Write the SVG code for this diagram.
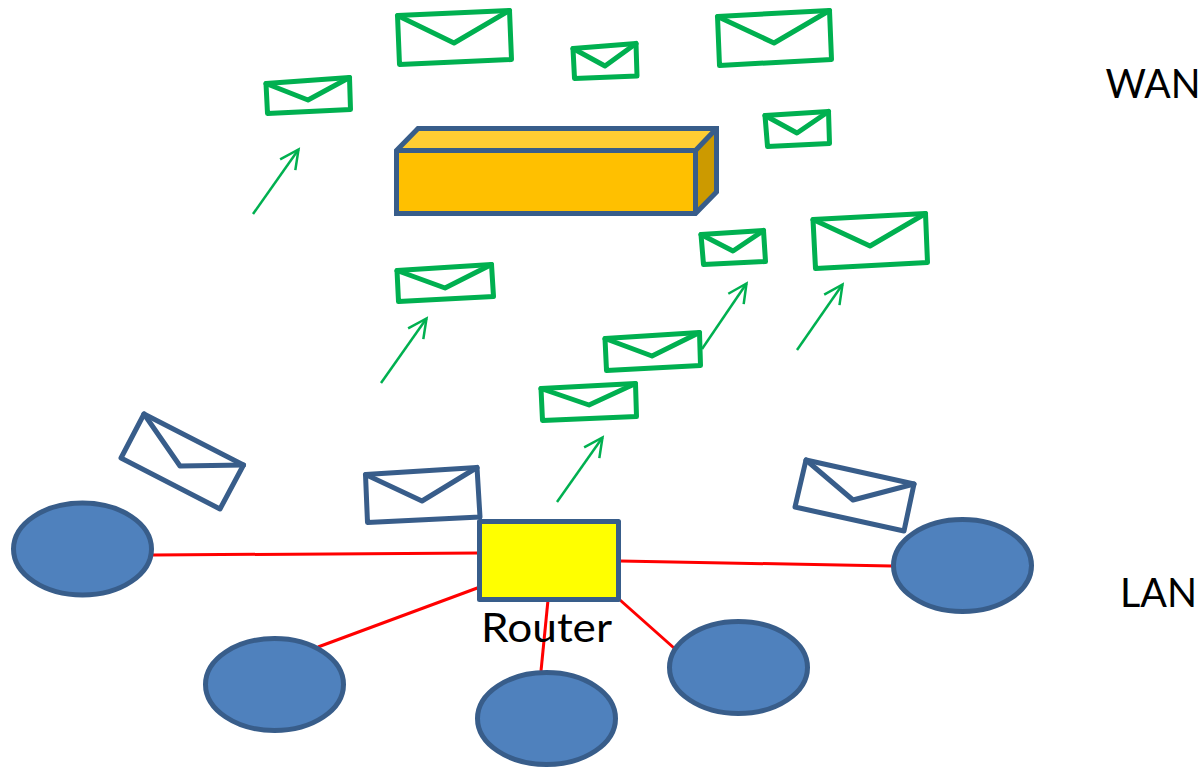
<svg xmlns="http://www.w3.org/2000/svg" width="1203" height="767" viewBox="0 0 1203 767">
<style>
.g{fill:#fff;stroke:#00B050;stroke-width:5;stroke-linejoin:round;stroke-linecap:round}
.gv{fill:none;stroke:#00B050;stroke-width:5;stroke-linejoin:round;stroke-linecap:round}
.b{fill:#fff;stroke:#385D8A;stroke-width:5;stroke-linejoin:round;stroke-linecap:round}
.bv{fill:none;stroke:#385D8A;stroke-width:5;stroke-linejoin:round;stroke-linecap:round}
.pc{fill:#4F81BD;stroke:#385D8A;stroke-width:5}
.red{stroke:#FF0000;stroke-width:3;fill:none}
.arr{stroke:#00B050;stroke-width:2.5;fill:none;marker-end:url(#open)}
.t{font-family:"Lato","Open Sans","Liberation Sans",sans-serif;font-size:40px;fill:#000}
.edge{stroke:#385D8A;stroke-width:5;stroke-linejoin:miter;fill:none}
</style>
<defs>
<marker id="open" markerUnits="userSpaceOnUse" markerWidth="24" markerHeight="24" refX="20" refY="10" orient="auto" overflow="visible">
<path d="M1.3 .7L20 10L1.3 19.3" fill="none" stroke="#00B050" stroke-width="2.5"/>
</marker>
</defs>
<g id="connectors">
<line class="red" x1="153" y1="555" x2="480" y2="553"/>
<line class="red" x1="318" y1="647" x2="480" y2="587"/>
<line class="red" x1="541" y1="671" x2="548" y2="600"/>
<line class="red" x1="620" y1="600" x2="674" y2="648"/>
<line class="red" x1="620" y1="561" x2="892" y2="566"/>
<line class="arr" x1="253" y1="214" x2="298.5" y2="149.5"/>
<line class="arr" x1="381" y1="383" x2="426.5" y2="318.5"/>
<line class="arr" x1="557" y1="502" x2="602.5" y2="437.5"/>
<line class="arr" x1="702" y1="349" x2="746.5" y2="283.5"/>
<line class="arr" x1="797" y1="350" x2="842.5" y2="284.5"/>
</g>
<g id="mail-wan-1"><polygon class="g" points="397.5,15.5 509.5,10.5 511.5,59.5 399.5,64.5"/><polyline class="gv" points="397.5,15.5 454,43 509.5,10.5"/></g>
<g id="mail-wan-2"><polygon class="g" points="573,48.5 636,43.5 637,76 574.5,78.5"/><polyline class="gv" points="573,48.5 605,66 636,43.5"/></g>
<g id="mail-wan-3"><polygon class="g" points="717.5,16.5 829.5,10.5 831.5,59.5 719.5,65.5"/><polyline class="gv" points="717.5,16.5 774,43 829.5,10.5"/></g>
<g id="mail-wan-4"><polygon class="g" points="266,83.5 349.5,77.5 350.5,109.5 267.5,113.5"/><polyline class="gv" points="266,83.5 308,100 349.5,77.5"/></g>
<g id="mail-wan-5"><polygon class="g" points="765,115.5 828.5,111.5 829.5,143.5 767.5,146.5"/><polyline class="gv" points="765,115.5 797,133 828.5,111.5"/></g>
<g id="mail-mid-1"><polygon class="g" points="701,234.5 763.5,230.5 765.5,261.5 703.5,264.5"/><polyline class="gv" points="701,234.5 733,251 763.5,230.5"/></g>
<g id="mail-mid-2"><polygon class="g" points="813,219.5 925.5,213.5 927.5,262.5 815.5,268.5"/><polyline class="gv" points="813,219.5 870,246 925.5,213.5"/></g>
<g id="mail-mid-3"><polygon class="g" points="397,270.5 491.5,264.5 493.5,296.5 398.5,301.5"/><polyline class="gv" points="397,270.5 445,288 491.5,264.5"/></g>
<g id="mail-mid-4"><polygon class="g" points="605,338.5 699.5,332.5 700.5,365.5 606.5,370.5"/><polyline class="gv" points="605,338.5 652,356 699.5,332.5"/></g>
<g id="mail-mid-5"><polygon class="g" points="541,388.5 635.5,383.5 636.5,416.5 542.5,420.5"/><polyline class="gv" points="541,388.5 589,405 635.5,383.5"/></g>
<g id="mail-lan-1"><polygon class="b" points="144,414 243.5,465 220,509 121,458"/><polyline class="bv" points="144,414 180,466 243.5,465"/></g>
<g id="mail-lan-2"><polygon class="b" points="365.5,474.5 477,467.5 480,517 367.5,522.5"/><polyline class="bv" points="365.5,474.5 422,501 477,467.5"/></g>
<g id="mail-lan-3"><polygon class="b" points="806,460 914,484 904,531 795,507"/><polyline class="bv" points="806,460 853,500 914,484"/></g>
<g id="firewall">
<polygon fill="#FFC000" points="396.5,150.5 695.5,150.5 695.5,213.5 396.5,213.5"/>
<polygon fill="#FFCD33" points="396.5,150.5 418,128.5 716.5,128.5 695.5,150.5"/>
<polygon fill="#CC9A00" points="695.5,150.5 716.5,128.5 716.5,192 695.5,213.5"/>
<polygon class="edge" points="396.5,150.5 418,128.5 716.5,128.5 716.5,192 695.5,213.5 396.5,213.5"/>
<path class="edge" d="M396.5 150.5H695.5V213.5M695.5 150.5L716.5 128.5"/>
</g>
<g id="router"><rect x="479.5" y="521.5" width="139" height="78" fill="#FFFF00" stroke="#385D8A" stroke-width="5" stroke-linejoin="round"/></g>
<g id="pc-1"><ellipse class="pc" cx="82.5" cy="549" rx="69" ry="46"/></g>
<g id="pc-2"><ellipse class="pc" cx="274.5" cy="684.5" rx="69" ry="46"/></g>
<g id="pc-3"><ellipse class="pc" cx="546.5" cy="718.5" rx="69" ry="46"/></g>
<g id="pc-4"><ellipse class="pc" cx="738.5" cy="667.5" rx="69" ry="46"/></g>
<g id="pc-5"><ellipse class="pc" cx="962.5" cy="565.5" rx="69" ry="46"/></g>
<text class="t" x="481" y="642" textLength="131" lengthAdjust="spacingAndGlyphs">Router</text>
<text class="t" x="1105.5" y="98" textLength="95" lengthAdjust="spacingAndGlyphs">WAN</text>
<text class="t" x="1120" y="607" textLength="77" lengthAdjust="spacingAndGlyphs">LAN</text>
</svg>
